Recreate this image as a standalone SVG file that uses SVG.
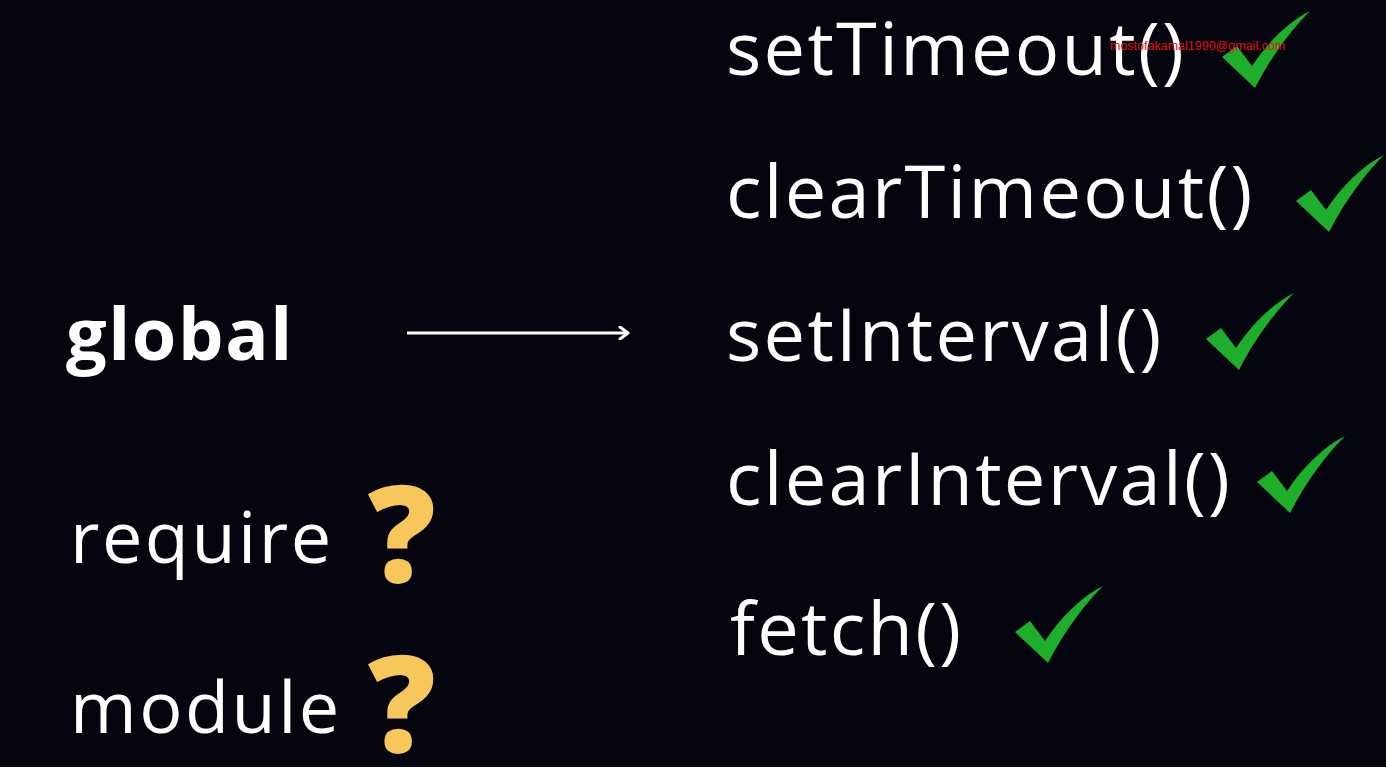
<svg xmlns="http://www.w3.org/2000/svg" width="1386" height="767" viewBox="0 0 1386 767">
<defs>
<style>
.t{font-family:"Open Sans","Liberation Sans",sans-serif;fill:#ffffff;font-size:74px;letter-spacing:2.3px;}
.l{font-size:72px;letter-spacing:2.5px;}
.b{font-weight:700;letter-spacing:1.6px;}
.q{font-family:"Open Sans","Liberation Sans",sans-serif;font-weight:800;font-size:134px;fill:#f7c75c;}
.ck{fill:#1fae2c;}
.wm{font-family:"Liberation Sans",Arial,sans-serif;font-size:12.5px;fill:#e01010;}
</style>
<symbol id="check" viewBox="0 0 88 78">
<path class="ck" d="M0,46 L15,35 L30,55 C46,31 66,11 88,0 C70,18 50,44 33,77 Z"/>
</symbol>
<marker id="ah" markerWidth="14" markerHeight="14" refX="11" refY="7" orient="auto" markerUnits="userSpaceOnUse">
<path d="M3,1 L11,7 L3,13" fill="none" stroke="#fff" stroke-width="3" stroke-linecap="round" stroke-linejoin="round"/>
</marker>
</defs>
<rect width="1386" height="767" fill="#05050f"/>
<g id="global"><text class="t l b" x="66" y="360">global</text></g>
<g id="require"><text class="t l" x="70" y="563">require</text><text class="q" x="368" y="582">?</text></g>
<g id="module"><text class="t l" x="70" y="733">module</text><text class="q" x="368" y="752">?</text></g>
<g id="connectors"><line x1="407" y1="333" x2="628" y2="333" stroke="#fff" stroke-width="3" marker-end="url(#ah)"/></g>
<g id="setTimeout"><text class="t" x="726" y="75">setTimeout()</text><use href="#check" x="1222" y="11" width="88" height="78"/></g>
<g id="clearTimeout"><text class="t" x="726" y="218">clearTimeout()</text><use href="#check" x="1296" y="155" width="88" height="78"/></g>
<g id="setInterval"><text class="t" x="726" y="361">setInterval()</text><use href="#check" x="1206" y="293" width="88" height="78"/></g>
<g id="clearInterval"><text class="t" x="726" y="505">clearInterval()</text><use href="#check" x="1257" y="436" width="88" height="78"/></g>
<g id="fetch"><text class="t" x="730" y="655">fetch()</text><use href="#check" x="1015" y="586" width="88" height="78"/></g>
<text class="wm" x="1110" y="50">mostofakamal1990@gmail.com</text>
</svg>
